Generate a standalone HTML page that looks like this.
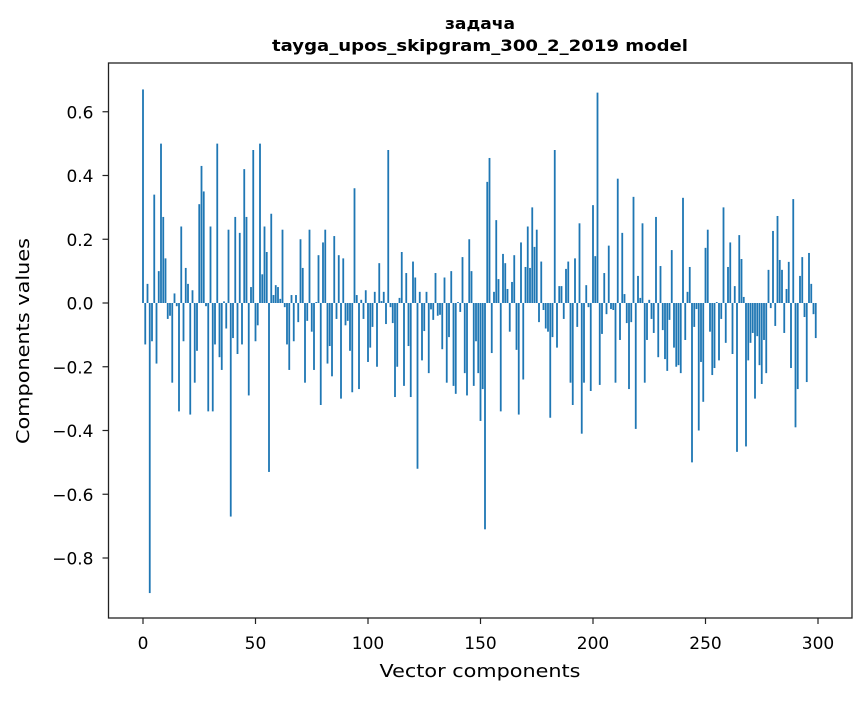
<!DOCTYPE html>
<html><head><meta charset="utf-8">
<style>
html,body{margin:0;padding:0;background:#fff;}
svg text{font-family:"DejaVu Sans","Liberation Sans",sans-serif;fill:#000;}
</style></head>
<body>
<svg id="chart" width="867" height="696" viewBox="0 0 867 696" xmlns="http://www.w3.org/2000/svg">
<rect x="0" y="0" width="867" height="696" fill="#fff"/>
<g id="titles">
<text x="480" y="29" text-anchor="middle" font-size="16" font-weight="bold" textLength="70" lengthAdjust="spacingAndGlyphs">задача</text>
<text x="480" y="51" text-anchor="middle" font-size="16" font-weight="bold" textLength="416" lengthAdjust="spacingAndGlyphs">tayga_upos_skipgram_300_2_2019 model</text>
<text x="480" y="677" text-anchor="middle" font-size="18" textLength="201" lengthAdjust="spacingAndGlyphs">Vector components</text>
<text transform="translate(29,341) rotate(-90)" text-anchor="middle" font-size="18" textLength="206" lengthAdjust="spacingAndGlyphs">Components values</text>
</g>
<g id="bars"></g>
<g id="axes"></g>
</svg>
<script>
const values = [
0.67,-0.13,0.06,-0.91,-0.12,0.34,-0.19,0.10,0.50,0.27,
0.14,-0.05,-0.04,-0.25,0.03,-0.01,-0.34,0.24,-0.12,0.11,
0.06,-0.35,0.04,-0.25,-0.15,0.31,0.43,0.35,-0.01,-0.34,
0.24,-0.34,-0.13,0.50,-0.17,-0.21,0.005,-0.08,0.23,-0.67,
-0.11,0.27,-0.16,0.22,-0.13,0.42,0.27,-0.29,0.05,0.48,
-0.12,-0.07,0.50,0.09,0.24,0.16,-0.53,0.28,0.025,0.056,
0.05,0.013,0.23,-0.013,-0.13,-0.21,0.025,-0.12,0.025,-0.06,
0.20,0.11,-0.25,-0.056,0.23,-0.09,-0.21,0.003,0.15,-0.32,
0.19,0.23,-0.19,-0.135,-0.23,0.21,-0.05,0.15,-0.30,0.14,
-0.07,-0.056,-0.15,-0.28,0.36,0.025,-0.27,0.01,-0.05,0.04,
-0.185,-0.14,-0.075,0.035,-0.20,0.125,0.006,0.035,-0.066,0.48,
-0.013,-0.063,-0.295,-0.20,0.016,0.16,-0.26,0.094,-0.135,-0.295,
0.13,0.08,-0.52,0.035,-0.18,-0.088,0.035,-0.22,-0.02,-0.053,
0.094,-0.04,-0.037,-0.145,0.08,-0.25,-0.107,0.10,-0.26,-0.285,
0.003,-0.028,0.144,-0.22,-0.29,0.20,0.10,-0.26,-0.12,-0.22,
-0.37,-0.27,-0.71,0.38,0.455,-0.157,0.035,0.26,0.075,-0.34,
0.154,0.125,0.044,-0.09,0.066,0.15,-0.147,-0.35,0.19,-0.24,
0.113,0.24,0.11,0.30,0.176,0.23,-0.06,0.13,-0.022,-0.08,
-0.09,-0.36,-0.107,0.48,-0.14,0.053,0.053,-0.05,0.107,0.13,
-0.25,-0.32,0.14,-0.075,0.25,-0.41,-0.25,0.056,-0.013,-0.276,
0.307,0.147,0.66,-0.257,-0.097,0.094,-0.035,0.18,-0.019,-0.022,
-0.25,0.39,-0.116,0.22,0.028,-0.063,-0.27,-0.06,0.333,-0.395,
0.085,0.016,0.25,-0.25,-0.116,0.01,-0.05,-0.094,0.27,-0.17,
0.116,-0.085,-0.176,-0.213,-0.053,0.166,-0.14,-0.20,-0.195,-0.22,
0.33,-0.116,0.035,0.113,-0.50,-0.075,-0.019,-0.40,-0.185,-0.31,
0.173,0.23,-0.09,-0.226,-0.204,0.003,-0.18,-0.05,0.30,-0.125,
0.113,0.19,-0.16,0.053,-0.467,0.213,0.138,0.019,-0.45,-0.18,
-0.125,-0.094,-0.30,-0.104,-0.195,-0.254,-0.116,-0.22,0.104,-0.016,
0.226,-0.072,0.273,0.135,0.104,-0.094,0.044,0.129,-0.204,0.326,
-0.39,-0.27,0.085,0.144,-0.044,-0.248,0.157,0.06,-0.035,-0.11
];
const xTicks = [0,50,100,150,200,250,300];
const yTicks = [0.6,0.4,0.2,0.0,-0.2,-0.4,-0.6,-0.8];
const yTickLabels = ["0.6","0.4","0.2","0.0","\u22120.2","\u22120.4","\u22120.6","\u22120.8"];

const L=108.5,R=852,T=63,B=618;
function xs(v){return 143+v*2.25;}
function ys(v){return 303-v*318.75;}
const NS="http://www.w3.org/2000/svg";
const barsG=document.getElementById('bars');
values.forEach((v,i)=>{
  const r=document.createElementNS(NS,'rect');
  const y0=ys(0),y1=ys(v);
  r.setAttribute('x',xs(i-0.4));
  r.setAttribute('width',0.8*2.25);
  r.setAttribute('y',Math.min(y0,y1));
  r.setAttribute('height',Math.max(Math.abs(y1-y0),0.3));
  r.setAttribute('fill','#1f77b4');
  
  
  barsG.appendChild(r);
});
const ax=document.getElementById('axes');
const frame=document.createElementNS(NS,'rect');
frame.setAttribute('x',L);frame.setAttribute('y',T);
frame.setAttribute('width',R-L);frame.setAttribute('height',B-T);
frame.setAttribute('fill','none');frame.setAttribute('stroke','#222');frame.setAttribute('stroke-width','1.3');


ax.appendChild(frame);
xTicks.forEach(t=>{
  const l=document.createElementNS(NS,'line');
  l.setAttribute('x1',xs(t));l.setAttribute('x2',xs(t));
  l.setAttribute('y1',B);l.setAttribute('y2',B+6);
  l.setAttribute('stroke','#222');l.setAttribute('stroke-width','1.2');
  
  
  ax.appendChild(l);
  const tx=document.createElementNS(NS,'text');
  tx.setAttribute('x',xs(t));tx.setAttribute('y',B+31);
  tx.setAttribute('text-anchor','middle');tx.setAttribute('font-size','17');
  tx.textContent=String(t);
  
  
  ax.appendChild(tx);
});
yTicks.forEach((t,k)=>{
  const l=document.createElementNS(NS,'line');
  l.setAttribute('x1',L-6);l.setAttribute('x2',L);
  l.setAttribute('y1',ys(t));l.setAttribute('y2',ys(t));
  l.setAttribute('stroke','#222');l.setAttribute('stroke-width','1.2');
  
  
  ax.appendChild(l);
  const tx=document.createElementNS(NS,'text');
  tx.setAttribute('x',L-15);tx.setAttribute('y',ys(t)+6.5);
  tx.setAttribute('text-anchor','end');tx.setAttribute('font-size','17');
  tx.textContent=yTickLabels[k];
  
  
  ax.appendChild(tx);
});
</script>
</body></html>
